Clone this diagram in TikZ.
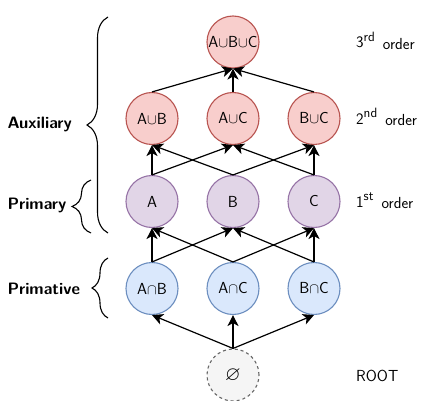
\documentclass[tikz,border=0pt]{standalone}
\usepackage{amssymb}
\usepackage{graphicx}
\usetikzlibrary{arrows.meta,decorations.pathreplacing}
\definecolor{redf}{HTML}{F8CECC}
\definecolor{redd}{HTML}{B85450}
\definecolor{purf}{HTML}{E1D5E7}
\definecolor{purd}{HTML}{9673A6}
\definecolor{bluf}{HTML}{DAE8FC}
\definecolor{blud}{HTML}{6C8EBF}
\definecolor{grayf}{HTML}{F5F5F5}
\definecolor{grayd}{HTML}{666666}
\newcommand{\mycup}{\scalebox{0.85}{$\cup$}}
\newcommand{\mycap}{\scalebox{0.85}{$\cap$}}
\newcommand{\ordlbl}[2]{#1\raisebox{6.5pt}{\fontsize{13.5}{15}\selectfont #2}\hspace{8pt}\raisebox{-1.5pt}{order}}
\begin{document}
\begin{tikzpicture}[x=1pt,y=-1pt,
  font=\sffamily\fontsize{16}{19}\selectfont,
  nd/.style={circle, minimum size=52pt, inner sep=0pt, line width=1.1pt},
  rednd/.style={nd, fill=redf, draw=redd},
  purnd/.style={nd, fill=purf, draw=purd},
  blund/.style={nd, fill=bluf, draw=blud},
  graynd/.style={nd, fill=grayf, draw=grayd, dash pattern=on 3pt off 3pt},
  arr/.style={line width=1.2pt, -{Stealth[length=11pt,width=11pt,inset=3pt]}},
  brc/.style={line width=1.1pt, decorate, decoration={brace, amplitude=#1}},
  lbl/.style={anchor=west, font=\sffamily\bfseries\fontsize{16.5}{19}\selectfont},
  rlbl/.style={anchor=base west, inner sep=0pt}
]
\useasboundingbox (0,0) rectangle (426,401);

% nodes
\node[rednd] (abc) at (233,42) {A\mycup B\mycup C};
\node[rednd] (ab) at (152,118.5) {A\mycup B};
\node[rednd] (ac) at (233,118.5) {A\mycup C};
\node[rednd] (bc) at (314,118.5) {B\mycup C};
\node[purnd] (a) at (152,201.5) {A};
\node[purnd] (b) at (233,201.5) {B};
\node[purnd] (c) at (314,201.5) {C};
\node[blund] (iab) at (152,288.5) {A\mycap B};
\node[blund] (iac) at (233,288.5) {A\mycap C};
\node[blund] (ibc) at (314,288.5) {B\mycap C};
\node[graynd] (root) at (233,375) {\scalebox{1.25}{$\varnothing$}};

% edges
\draw[arr] (root.north) -- (iab.south);
\draw[arr] (root.north) -- (iac.south);
\draw[arr] (root.north) -- (ibc.south);

\draw[arr] (iab.north) -- (a.south);
\draw[arr] (iab.north) -- (b.south);
\draw[arr] (iac.north) -- (a.south);
\draw[arr] (iac.north) -- (c.south);
\draw[arr] (ibc.north) -- (b.south);
\draw[arr] (ibc.north) -- (c.south);

\draw[arr] (a.north) -- (ab.south);
\draw[arr] (a.north) -- (ac.south);
\draw[arr] (b.north) -- (ab.south);
\draw[arr] (b.north) -- (bc.south);
\draw[arr] (c.north) -- (ac.south);
\draw[arr] (c.north) -- (bc.south);

\draw[arr] (ab.north) -- (abc.south);
\draw[arr] (ac.north) -- (abc.south);
\draw[arr] (bc.north) -- (abc.south);

% braces
\coordinate (auxb) at (108,233);
\coordinate (auxt) at (108,17);
\coordinate (prib) at (91,233);
\coordinate (prit) at (91,180);
\coordinate (prmb) at (108,318);
\coordinate (prmt) at (108,258);
\draw[brc=21pt] (auxb) -- (auxt);
\draw[brc=19pt] (prib) -- (prit);
\draw[brc=16pt] (prmb) -- (prmt);

% left labels
\node[lbl] (laux) at (4,124) {Auxiliary};
\node[lbl] (lpri) at (4,205) {Primary};
\node[lbl] (lprm) at (4,289) {Primative};

% right labels
\node[rlbl] (o3) at (356,48) {\ordlbl{3}{rd}};
\node[rlbl] (o2) at (356,124.5) {\ordlbl{2}{nd}};
\node[rlbl] (o1) at (356,207.5) {\ordlbl{1}{st}};
\node[rlbl] (oroot) at (356,381) {ROOT};
\end{tikzpicture}
\end{document}
